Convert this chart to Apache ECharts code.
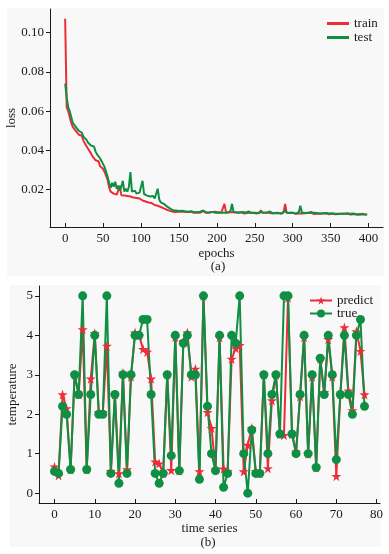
<!DOCTYPE html>
<html>
<head>
<meta charset="utf-8">
<script src="https://cdn.jsdelivr.net/npm/echarts@6/dist/echarts.min.js"></script>
<style>
html, body { margin: 0; padding: 0; background: #fff; }
#chart { width: 389px; height: 554px; }
</style>
</head>
<body>
<div id="chart"></div>
<script>
// (a) loss per epoch, one value every 2 epochs (0, 2, ... 398)
const trainLoss = [
  0.107, 0.062, 0.060, 0.057, 0.054, 0.052, 0.053, 0.050, 0.051, 0.048,
  0.047, 0.0475, 0.045, 0.0435, 0.044, 0.041, 0.040, 0.0385, 0.037, 0.0375,
  0.035, 0.034, 0.0345, 0.032, 0.031, 0.0305, 0.029, 0.027, 0.025, 0.021,
  0.019, 0.0185, 0.018, 0.0182, 0.0175, 0.017, 0.022, 0.0172, 0.0168, 0.017,
  0.0165, 0.0168, 0.016, 0.0165, 0.0158, 0.016, 0.0155, 0.0158, 0.015, 0.0155,
  0.0148, 0.0145, 0.0148, 0.014, 0.0138, 0.0135, 0.013, 0.0132, 0.0125, 0.0122,
  0.012, 0.0118, 0.0115, 0.0112, 0.011, 0.0105, 0.0102, 0.0098, 0.0095, 0.0092,
  0.009, 0.0088, 0.0089, 0.0087, 0.0088,
  0.0088, 0.0086, 0.0089, 0.0085, 0.0087, 0.0092, 0.0086, 0.0084, 0.0087, 0.0085,
  0.0083, 0.0086, 0.0084, 0.0088, 0.0083, 0.0085, 0.0091, 0.0086, 0.0082, 0.0085,
  0.0083, 0.0081, 0.0086, 0.0082, 0.0088, 0.0096, 0.0084, 0.0082, 0.0085, 0.0083,
  0.0128, 0.0085, 0.0082, 0.0084, 0.0081, 0.0086, 0.0082, 0.0084, 0.008, 0.0083,
  0.0081, 0.0085, 0.0082, 0.0079, 0.0083, 0.0081, 0.0086, 0.0082, 0.008, 0.0083,
  0.0081, 0.0079, 0.0084, 0.0081, 0.0095, 0.0082, 0.0079, 0.0082, 0.008, 0.0083,
  0.0087, 0.008, 0.0078, 0.0081, 0.0079, 0.0083, 0.008, 0.0078, 0.0082, 0.0085,
  0.0128, 0.0082, 0.0079, 0.0081, 0.0078, 0.0082, 0.0079, 0.0077, 0.0081, 0.0079,
  0.0083, 0.0079, 0.0077, 0.008, 0.0078, 0.0081, 0.0079, 0.0083, 0.0078, 0.0076,
  0.008, 0.0078, 0.0082, 0.0078, 0.0076, 0.0079, 0.0077, 0.008, 0.0077, 0.0075,
  0.0079, 0.0077, 0.0081, 0.0077, 0.0075, 0.0078, 0.0082, 0.0077, 0.0075, 0.0078,
  0.0076, 0.0079, 0.0076, 0.0074, 0.0077, 0.0075, 0.0078, 0.0075, 0.0077, 0.0074,
  0.0076, 0.0078, 0.0075, 0.0073, 0.0075
];
const testLoss = [
  0.074, 0.067, 0.062, 0.060, 0.057, 0.054, 0.055, 0.052, 0.053, 0.050,
  0.051, 0.049, 0.047, 0.048, 0.0455, 0.044, 0.0445, 0.0425, 0.0415, 0.042,
  0.0395, 0.038, 0.0385, 0.036, 0.0345, 0.033, 0.0315, 0.029, 0.0265, 0.0235,
  0.021, 0.0235, 0.0215, 0.024, 0.0205, 0.022, 0.0195, 0.0215, 0.0245, 0.019,
  0.0205, 0.019, 0.0215, 0.029, 0.019, 0.0185, 0.0195, 0.018, 0.0188, 0.0185,
  0.018, 0.0245, 0.0178, 0.0185, 0.017, 0.0175, 0.0165, 0.016, 0.0168, 0.0155,
  0.0158, 0.0205, 0.015, 0.0135, 0.013, 0.0128, 0.012, 0.0115, 0.0112, 0.0105,
  0.0098, 0.0095, 0.0092, 0.0094, 0.009,
  0.0092, 0.0088, 0.0093, 0.0087, 0.009, 0.0096, 0.0088, 0.0086, 0.009, 0.0087,
  0.0085, 0.0089, 0.0086, 0.0084, 0.0088, 0.0085, 0.0094, 0.0087, 0.0084, 0.0088,
  0.0085, 0.0083, 0.0087, 0.0084, 0.0082, 0.0086, 0.0084, 0.0088, 0.0083, 0.0085,
  0.0082, 0.0086, 0.0083, 0.0088, 0.0092, 0.0128, 0.0086, 0.0082, 0.0085, 0.0081,
  0.0084, 0.0082, 0.0086, 0.0081, 0.0084, 0.0082, 0.0089, 0.0083, 0.0081, 0.0084,
  0.0082, 0.0085, 0.0081, 0.0083, 0.0086, 0.0081, 0.0083, 0.008, 0.0084, 0.0081,
  0.0089, 0.0082, 0.0079, 0.0083, 0.0081, 0.0084, 0.008, 0.0082, 0.0079, 0.0083,
  0.0095, 0.0083, 0.008, 0.0082, 0.0079, 0.0083, 0.008, 0.0078, 0.0082, 0.0085,
  0.0118, 0.0084, 0.0079, 0.0081, 0.0078, 0.0082, 0.0079, 0.0086, 0.0091, 0.0082,
  0.0079, 0.0081, 0.0088, 0.0079, 0.0077, 0.008, 0.0078, 0.0081, 0.0077, 0.0079,
  0.0076, 0.008, 0.0077, 0.0075, 0.0079, 0.0076, 0.008, 0.0077, 0.0082, 0.0078,
  0.0086, 0.0079, 0.0076, 0.0078, 0.0075, 0.0079, 0.0076, 0.0074, 0.0078, 0.0075,
  0.0077, 0.0074, 0.0076, 0.0073, 0.0075
];
const epochStep = 2;
const epochTicks = [0, 50, 100, 150, 200, 250, 300, 350, 400];
const lossTicks = [0.02, 0.04, 0.06, 0.08, 0.10];

// (b) temperature, time series 0..77
const predictTemp = [
  0.67, 0.45, 2.5, 2.15, 0.6, 3.0, 2.5, 4.15, 0.6, 2.9,
  4.05, 2.05, 2.05, 3.73, 0.56, 2.5, 0.5, 3.05, 0.6, 2.95,
  4.07, 4.0, 3.65, 3.58, 2.9, 0.8, 0.75, 0.5, 3.0, 0.58,
  3.95, 0.57, 3.85, 4.07, 2.95, 3.15, 0.55, 5.0, 2.05, 1.65,
  0.6, 3.95, 0.62, 0.55, 3.4, 3.67, 3.75, 0.55, 1.22, 1.65,
  0.55, 0.5, 3.0, 0.63, 2.35, 3.0, 1.5, 1.47, 4.95, 1.5,
  1.05, 2.45, 3.95, 1.0, 2.95, 0.65, 3.4, 2.55, 3.9, 2.95,
  0.43, 2.5, 4.2, 2.6, 2.1, 4.1, 3.6, 2.5
];
const trueTemp = [
  0.55, 0.5, 2.2, 2.0, 0.6, 3.0, 2.5, 5.0, 0.6, 2.5,
  4.0, 2.0, 2.0, 5.0, 0.5, 2.5, 0.25, 3.0, 0.5, 3.0,
  4.0, 4.0, 4.4, 4.4, 2.5, 0.5, 0.25, 0.5, 3.0, 0.95,
  4.0, 0.57, 3.8, 4.0, 3.0, 3.0, 0.35, 5.0, 2.2, 1.0,
  0.57, 4.0, 0.15, 0.5, 4.0, 3.8, 5.0, 1.0, 0.0, 1.6,
  0.5, 0.5, 3.0, 1.0, 2.5, 3.0, 1.5, 5.0, 5.0, 1.5,
  1.0, 2.5, 4.0, 1.0, 3.0, 0.65, 3.42, 2.5, 4.0, 3.0,
  0.85, 2.5, 4.0, 2.5, 2.0, 4.0, 4.4, 2.2
];
const timeTicks = [0, 10, 20, 30, 40, 50, 60, 70, 80];
const tempTicks = [0, 1, 2, 3, 4, 5];

const RED = '#ec2d38';
const GREEN = '#0f8f43';
const FONT = "'Liberation Serif', 'DejaVu Serif', serif";
const INK = '#1a1a1a';
const STAR = 'path://M50,0 L61,35 L98,35 L68,57 L79,91 L50,70 L21,91 L32,57 L2,35 L39,35 Z';
const LINE_ICON = 'path://M0,0 L22,0 L22,3 L0,3 Z';

const txt = { fontFamily: FONT, fontSize: 13, color: INK };

function xAxisOf(gridIndex, min, max, ticks, name, gap) {
  return {
    type: 'value', gridIndex, min, max, name,
    nameLocation: 'middle', nameGap: gap, nameMoveOverlap: false,
    nameTextStyle: txt,
    axisLine: { show: true, onZero: false, lineStyle: { color: INK, width: 1 } },
    axisTick: { show: true, inside: true, length: 4, customValues: ticks, lineStyle: { color: INK } },
    axisLabel: { ...txt, margin: 5, customValues: ticks },
    splitLine: { show: false }
  };
}
function yAxisOf(gridIndex, min, max, ticks, name, gap, fmt) {
  return {
    type: 'value', gridIndex, min, max, name,
    nameLocation: 'middle', nameGap: gap, nameRotate: 90, nameMoveOverlap: false,
    nameTextStyle: txt,
    axisLine: { show: true, onZero: false, lineStyle: { color: INK, width: 1 } },
    axisTick: { show: true, length: 4, customValues: ticks, lineStyle: { color: INK } },
    axisLabel: { ...txt, margin: 6, customValues: ticks, formatter: fmt },
    splitLine: { show: false }
  };
}

const chart = echarts.init(document.getElementById('chart'));
chart.setOption({
  animation: false,
  backgroundColor: '#fff',
  graphic: [
    { type: 'rect', z: -10, shape: { x: 7, y: 8, width: 377, height: 268 }, style: { fill: '#f8f8f8' } },
    { type: 'rect', z: -10, shape: { x: 10, y: 285, width: 371, height: 262 }, style: { fill: '#f8f8f8' } },
    { type: 'text', x: 218, y: 267, style: { text: '(a)', fontFamily: FONT, fontSize: 13, fill: INK, align: 'center', verticalAlign: 'middle' } },
    { type: 'text', x: 208, y: 543, style: { text: '(b)', fontFamily: FONT, fontSize: 13, fill: INK, align: 'center', verticalAlign: 'middle' } }
  ],
  grid: [
    { left: 50, top: 9, width: 333, height: 218, outerBoundsMode: 'none', containLabel: false },
    { left: 39, top: 286, width: 341, height: 217, outerBoundsMode: 'none', containLabel: false }
  ],
  legend: [
    {
      data: ['train', 'test'], orient: 'vertical', left: 322, top: 12,
      icon: LINE_ICON, itemWidth: 22, itemHeight: 3, itemGap: 1, textStyle: txt
    },
    {
      data: ['predict', 'true'], orient: 'vertical', left: 304, top: 289,
      itemWidth: 22, itemHeight: 10, itemGap: 0, textStyle: txt
    }
  ],
  xAxis: [
    xAxisOf(0, -20, 419, epochTicks, 'epochs', 20),
    xAxisOf(1, -3.85, 80.85, timeTicks, 'time series', 19)
  ],
  yAxis: [
    yAxisOf(0, 0.001, 0.112, lossTicks, 'loss', 32, v => v.toFixed(2)),
    yAxisOf(1, -0.25, 5.25, tempTicks, 'temperature', 20, v => String(v))
  ],
  series: [
    {
      name: 'train', type: 'line', xAxisIndex: 0, yAxisIndex: 0,
      showSymbol: false, symbol: 'none', color: RED,
      lineStyle: { width: 2, color: RED },
      data: trainLoss.map((v, i) => [i * epochStep, v])
    },
    {
      name: 'test', type: 'line', xAxisIndex: 0, yAxisIndex: 0,
      showSymbol: false, symbol: 'none', color: GREEN,
      lineStyle: { width: 2, color: GREEN },
      data: testLoss.map((v, i) => [i * epochStep, v])
    },
    {
      name: 'predict', type: 'line', xAxisIndex: 1, yAxisIndex: 1,
      symbol: STAR, symbolSize: 10, color: RED,
      lineStyle: { width: 2, color: RED },
      itemStyle: { color: RED },
      data: predictTemp.map((v, i) => [i, v])
    },
    {
      name: 'true', type: 'line', xAxisIndex: 1, yAxisIndex: 1,
      symbol: 'circle', symbolSize: 9, color: GREEN,
      lineStyle: { width: 2, color: GREEN },
      itemStyle: { color: GREEN },
      data: trueTemp.map((v, i) => [i, v])
    }
  ]
});
</script>
</body>
</html>
